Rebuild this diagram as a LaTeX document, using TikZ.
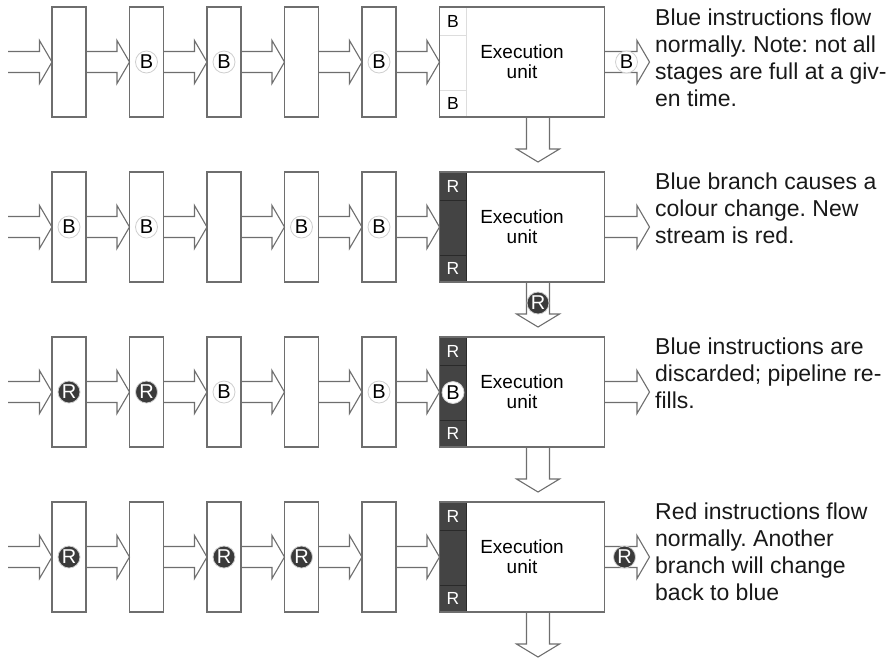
\documentclass[tikz,border=0pt]{standalone}
\usepackage{fontspec}
\setmainfont{Liberation Sans}
\usetikzlibrary{positioning,calc,backgrounds}
\frenchspacing

\definecolor{lineGrey}{HTML}{6E6E6E}
\definecolor{darkCell}{HTML}{444444}
\definecolor{darkEdge}{HTML}{2A2A2A}
\definecolor{tokDark}{HTML}{3A3A3A}
\definecolor{tokEdge}{HTML}{CFCFCF}
\definecolor{sepGrey}{HTML}{DDDDDD}

\newcommand{\flowright}[2]{%
  \draw[flow] ($#1+(0,-10.5)$) -- ($#2+(-12.5,-10.5)$) -- ($#2+(-12.5,-21.5)$) -- #2
    -- ($#2+(-12.5,21.5)$) -- ($#2+(-12.5,10.5)$) -- ($#1+(0,10.5)$);}
\newcommand{\flowdown}[2]{%
  \draw[flow] ($#1+(-11.5,0)$) -- ($#2+(-11.5,-13)$) -- ($#2+(-21.5,-13)$) -- #2
    -- ($#2+(21.5,-13)$) -- ($#2+(11.5,-13)$) -- ($#1+(11.5,0)$);}

\begin{document}
\begin{tikzpicture}[
    x=1pt, y=-1pt,
    node distance=43.5pt,
    stage/.style={draw=lineGrey, line width=1.3pt, fill=white, minimum width=34pt, minimum height=110pt, inner sep=0pt, outer sep=0pt},
    unit/.style={draw=lineGrey, line width=1.3pt, minimum width=165pt, minimum height=110pt, inner sep=0pt, outer sep=0pt, align=center, font=\fontsize{19}{20}\selectfont},
    cell/.style={minimum width=27pt, inner sep=0pt, outer sep=0pt, line width=1pt, font=\fontsize{17.5}{18}\selectfont},
    lightcell/.style={cell, draw=sepGrey, fill=white},
    darkcell/.style={cell, draw=darkEdge, fill=darkCell, text=white},
    flow/.style={draw=lineGrey, line width=1.1pt, line join=miter},
    tok/.style={circle, minimum size=22pt, inner sep=0pt, line width=0.8pt, font=\fontsize{20}{20}\selectfont},
    btok/.style={tok, fill=white, draw=tokEdge},
    rtok/.style={tok, fill=tokDark, draw=tokEdge, text=white},
    note/.style={anchor=base west, align=left, inner sep=0pt, text=black!90, font=\fontsize{23}{27}\selectfont}
  ]
    \useasboundingbox (0,0) rectangle (893,657);

    \node[stage] (s11) at (69,62) {};
    \node[stage, right=of s11] (s12) {};
    \node[stage, right=of s12] (s13) {};
    \node[stage, right=of s13] (s14) {};
    \node[stage, right=of s14] (s15) {};
    \node[unit, right=of s15] (eu1) {Execution\\unit};
    \begin{scope}[on background layer]
      \node[lightcell, anchor=north west, minimum height=28pt] (c1t) at (eu1.north west) {B};
      \node[lightcell, anchor=south west, minimum height=27pt] (c1b) at (eu1.south west) {B};
      \node[lightcell, anchor=north, minimum height=55pt] (c1m) at (c1t.south) {};
    \end{scope}

    \node[stage, below=55pt of s11] (s21) {};
    \node[stage, right=of s21] (s22) {};
    \node[stage, right=of s22] (s23) {};
    \node[stage, right=of s23] (s24) {};
    \node[stage, right=of s24] (s25) {};
    \node[unit, right=of s25] (eu2) {Execution\\unit};
    \begin{scope}[on background layer]
      \node[darkcell, anchor=north west, minimum height=28pt] (c2t) at (eu2.north west) {R};
      \node[darkcell, anchor=south west, minimum height=27pt] (c2b) at (eu2.south west) {R};
      \node[darkcell, anchor=north, minimum height=55pt] (c2m) at (c2t.south) {};
    \end{scope}

    \node[stage, below=55pt of s21] (s31) {};
    \node[stage, right=of s31] (s32) {};
    \node[stage, right=of s32] (s33) {};
    \node[stage, right=of s33] (s34) {};
    \node[stage, right=of s34] (s35) {};
    \node[unit, right=of s35] (eu3) {Execution\\unit};
    \begin{scope}[on background layer]
      \node[darkcell, anchor=north west, minimum height=28pt] (c3t) at (eu3.north west) {R};
      \node[darkcell, anchor=south west, minimum height=27pt] (c3b) at (eu3.south west) {R};
      \node[darkcell, anchor=north, minimum height=55pt] (c3m) at (c3t.south) {};
    \end{scope}

    \node[stage, below=55pt of s31] (s41) {};
    \node[stage, right=of s41] (s42) {};
    \node[stage, right=of s42] (s43) {};
    \node[stage, right=of s43] (s44) {};
    \node[stage, right=of s44] (s45) {};
    \node[unit, right=of s45] (eu4) {Execution\\unit};
    \begin{scope}[on background layer]
      \node[darkcell, anchor=north west, minimum height=28pt] (c4t) at (eu4.north west) {R};
      \node[darkcell, anchor=south west, minimum height=27pt] (c4b) at (eu4.south west) {R};
      \node[darkcell, anchor=north, minimum height=55pt] (c4m) at (c4t.south) {};
    \end{scope}

    \coordinate (i1) at ($(s11.west)+(-44,0)$);
    \coordinate (i2) at ($(s21.west)+(-44,0)$);
    \coordinate (i3) at ($(s31.west)+(-44,0)$);
    \coordinate (i4) at ($(s41.west)+(-44,0)$);
    \coordinate (o1) at ($(eu1.east)+(45,0)$);
    \coordinate (o2) at ($(eu2.east)+(45,0)$);
    \coordinate (o3) at ($(eu3.east)+(45,0)$);
    \coordinate (o4) at ($(eu4.east)+(45,0)$);
    \coordinate (d1s) at ($(eu1.south)+(16,0)$);
    \coordinate (d2s) at ($(eu2.south)+(16,0)$);
    \coordinate (d3s) at ($(eu3.south)+(16,0)$);
    \coordinate (d4s) at ($(eu4.south)+(16,0)$);
    \coordinate (d1) at ($(d1s)+(0,45)$);
    \coordinate (d2) at ($(d2s)+(0,45)$);
    \coordinate (d3) at ($(d3s)+(0,45)$);
    \coordinate (d4) at ($(d4s)+(0,45)$);

    \flowright{(i1)}{(s11.west)}
    \flowright{(s11.east)}{(s12.west)}
    \flowright{(s12.east)}{(s13.west)}
    \flowright{(s13.east)}{(s14.west)}
    \flowright{(s14.east)}{(s15.west)}
    \flowright{(s15.east)}{(eu1.west)}
    \flowright{(eu1.east)}{(o1)}
    \flowdown{(d1s)}{(d1)}

    \flowright{(i2)}{(s21.west)}
    \flowright{(s21.east)}{(s22.west)}
    \flowright{(s22.east)}{(s23.west)}
    \flowright{(s23.east)}{(s24.west)}
    \flowright{(s24.east)}{(s25.west)}
    \flowright{(s25.east)}{(eu2.west)}
    \flowright{(eu2.east)}{(o2)}
    \flowdown{(d2s)}{(d2)}

    \flowright{(i3)}{(s31.west)}
    \flowright{(s31.east)}{(s32.west)}
    \flowright{(s32.east)}{(s33.west)}
    \flowright{(s33.east)}{(s34.west)}
    \flowright{(s34.east)}{(s35.west)}
    \flowright{(s35.east)}{(eu3.west)}
    \flowright{(eu3.east)}{(o3)}
    \flowdown{(d3s)}{(d3)}

    \flowright{(i4)}{(s41.west)}
    \flowright{(s41.east)}{(s42.west)}
    \flowright{(s42.east)}{(s43.west)}
    \flowright{(s43.east)}{(s44.west)}
    \flowright{(s44.east)}{(s45.west)}
    \flowright{(s45.east)}{(eu4.west)}
    \flowright{(eu4.east)}{(o4)}
    \flowdown{(d4s)}{(d4)}

    \node[btok] (b12) at (s12) {B};
    \node[btok] (b13) at (s13) {B};
    \node[btok] (b15) at (s15) {B};
    \node[btok] (b1o) at ($(eu1.east)+(22,0)$) {B};

    \node[btok] (b21) at (s21) {B};
    \node[btok] (b22) at (s22) {B};
    \node[btok] (b24) at (s24) {B};
    \node[btok] (b25) at (s25) {B};
    \node[rtok] (r2d) at ($(d2s)+(0,21)$) {R};

    \node[rtok] (r31) at (s31) {R};
    \node[rtok] (r32) at (s32) {R};
    \node[btok] (b33) at (s33) {B};
    \node[btok] (b35) at (s35) {B};
    \node[btok] (b3m) at (c3m) {B};

    \node[rtok] (r41) at (s41) {R};
    \node[rtok] (r43) at (s43) {R};
    \node[rtok] (r44) at (s44) {R};
    \node[rtok] (r4o) at ($(eu4.east)+(20,0)$) {R};

    \node[note] (n1) at ($(eu1.east)+(50.5,44)$) {Blue instructions flow\\normally. Note: not all\\stages are full at a giv-\\en time.};
    \node[note] (n2) at ($(eu2.east)+(50.5,16)$) {Blue branch causes a\\colour change. New\\stream is red.};
    \node[note] (n3) at ($(eu3.east)+(50.5,16)$) {Blue instructions are\\discarded; pipeline re-\\fills.};
    \node[note] (n4) at ($(eu4.east)+(50.5,43)$) {Red instructions flow\\normally. Another\\branch will change\\back to blue};
  \end{tikzpicture}
\end{document}
